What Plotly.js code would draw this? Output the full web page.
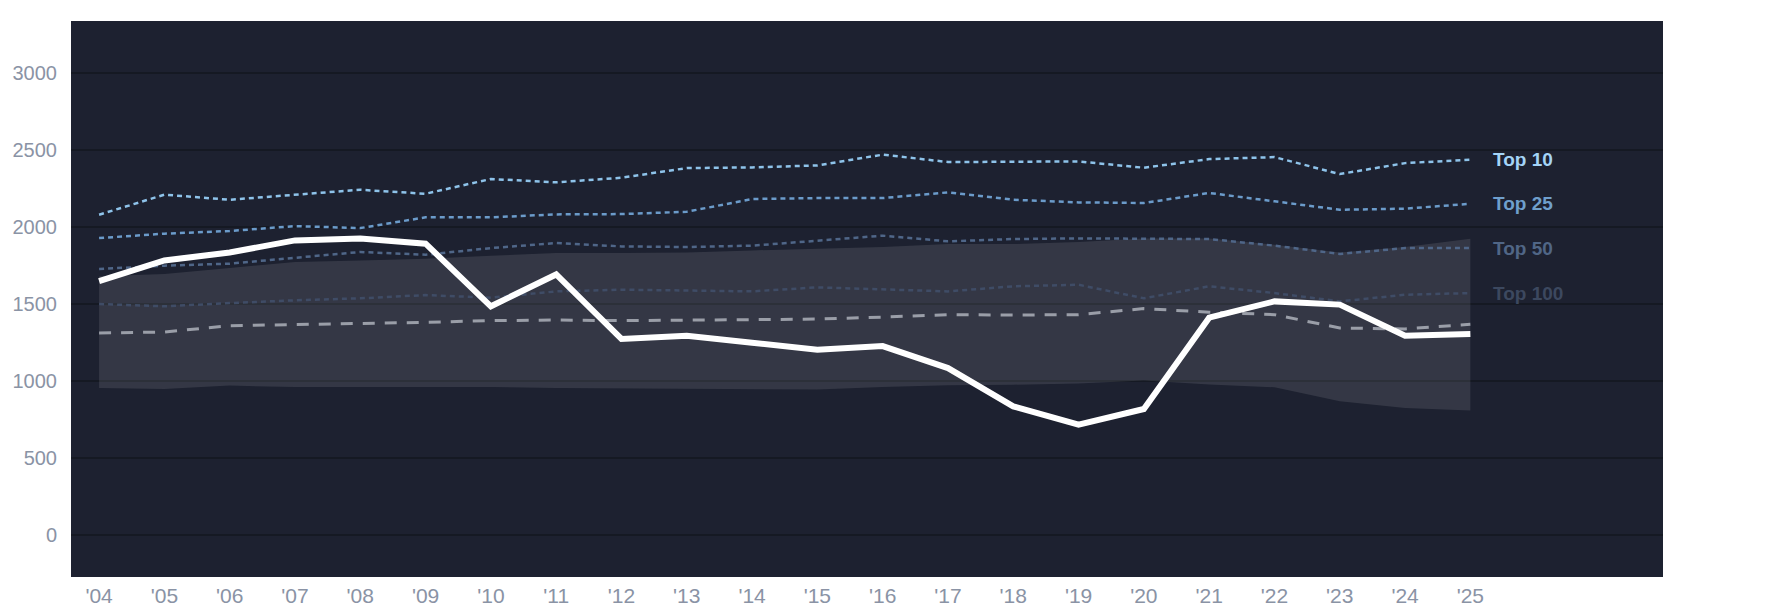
<!DOCTYPE html>
<html>
<head>
<meta charset="utf-8">
<script src="https://cdn.plot.ly/plotly-3.0.1.min.js"></script>
<style>
  html, body { margin: 0; padding: 0; background: #fff; }
  #plotly { width: 1785px; height: 614px; }
</style>
</head>
<body>
<div id="plotly"></div>
<script>
var years = [2004, 2005, 2006, 2007, 2008, 2009, 2010, 2011, 2012, 2013, 2014,
  2015, 2016, 2017, 2018, 2019, 2020, 2021, 2022, 2023, 2024, 2025];
var yearLabels = ["'04", "'05", "'06", "'07", "'08", "'09", "'10", "'11", "'12", "'13", "'14",
  "'15", "'16", "'17", "'18", "'19", "'20", "'21", "'22", "'23", "'24", "'25"];

var bandLow = [954, 948, 970, 961, 961, 961, 961, 954, 952, 950, 948,
  944, 961, 972, 976, 983, 1004, 978, 959, 868, 825, 809];
var bandHigh = [1680, 1695, 1734, 1773, 1783, 1794, 1814, 1831, 1831, 1835, 1848,
  1859, 1870, 1889, 1889, 1902, 1926, 1925, 1885, 1835, 1870, 1924];

var top10 = [2080, 2210, 2177, 2210, 2242, 2216, 2312, 2290, 2320, 2383, 2387,
  2400, 2470, 2422, 2422, 2426, 2385, 2441, 2454, 2344, 2415, 2437];
var top25 = [1928, 1957, 1974, 2006, 1993, 2063, 2063, 2082, 2084, 2099, 2182,
  2188, 2188, 2225, 2177, 2160, 2156, 2221, 2167, 2112, 2119, 2151];
var top50 = [1727, 1749, 1762, 1801, 1838, 1820, 1863, 1896, 1874, 1870, 1879,
  1911, 1944, 1907, 1922, 1926, 1924, 1922, 1879, 1825, 1863, 1863];
var top100 = [1500, 1485, 1506, 1524, 1537, 1558, 1541, 1582, 1593, 1589, 1582,
  1608, 1597, 1582, 1615, 1625, 1537, 1615, 1571, 1517, 1560, 1571];
var median = [1312, 1318, 1359, 1366, 1372, 1381, 1392, 1396, 1392, 1396, 1396,
  1402, 1415, 1431, 1428, 1431, 1470, 1447, 1431, 1344, 1338, 1368];
var team = [1649, 1783, 1835, 1913, 1926, 1892, 1485, 1692, 1273, 1294, 1249,
  1203, 1227, 1084, 835, 716, 818, 1411, 1517, 1496, 1294, 1305];

var tierNames = ['Top 10', 'Top 25', 'Top 50', 'Top 100'];
var tierSeries = [top10, top25, top50, top100];
var tierLineColors = ['#8ec3ea', '#6b9bca', '#4f6688', '#3f4c66'];
var tierTextColors = ['#a4d4f7', '#6f9fcc', '#506686', '#3c485f'];

var data = [];
data.push({
  x: years, y: bandLow, mode: 'lines', line: {width: 0, color: 'rgba(0,0,0,0)'},
  hoverinfo: 'skip', showlegend: false, type: 'scatter'
});
data.push({
  x: years, y: bandHigh, mode: 'lines', line: {width: 0, color: 'rgba(0,0,0,0)'},
  fill: 'tonexty', fillcolor: 'rgba(255,255,255,0.1)',
  hoverinfo: 'skip', showlegend: false, type: 'scatter'
});
tierSeries.forEach(function(vals, i) {
  data.push({
    x: years, y: vals, mode: 'lines', name: tierNames[i],
    line: {color: tierLineColors[i], width: 2.5, dash: '5px,4px'},
    showlegend: false, type: 'scatter'
  });
});
data.push({
  x: years, y: median, mode: 'lines', name: 'Median',
  line: {color: '#9a9ea8', width: 3, dash: '12px,10px'},
  showlegend: false, type: 'scatter'
});
data.push({
  x: years, y: team, mode: 'lines', name: 'Team',
  line: {color: '#ffffff', width: 6},
  showlegend: false, type: 'scatter'
});

var annotations = tierSeries.map(function(vals, i) {
  return {
    x: years[years.length - 1], y: vals[vals.length - 1],
    xref: 'x', yref: 'y', text: '<b>' + tierNames[i] + '</b>',
    showarrow: false, xanchor: 'left', yanchor: 'middle', xshift: 21,
    font: {family: 'Liberation Sans, Arial, sans-serif', size: 19, color: tierTextColors[i]}
  };
});

var layout = {
  width: 1785,
  height: 614,
  margin: {l: 71, r: 122, t: 21, b: 37},
  paper_bgcolor: '#ffffff',
  plot_bgcolor: '#1d2130',
  showlegend: false,
  font: {family: 'Liberation Sans, Arial, sans-serif', size: 21, color: '#8a93a5'},
  xaxis: {
    range: [2003.57, 2027.95],
    tickvals: years,
    ticktext: yearLabels,
    showgrid: false,
    zeroline: false,
    showline: false,
    ticks: '',
    ticklabelstandoff: 4,
    tickfont: {size: 21, color: '#8a93a5'}
  },
  yaxis: {
    range: [-273, 3338],
    tickvals: [0, 500, 1000, 1500, 2000, 2500, 3000],
    gridcolor: '#151923',
    gridwidth: 2,
    zeroline: false,
    showline: false,
    ticks: '',
    ticklabelstandoff: 13,
    tickfont: {size: 20, color: '#8a93a5'}
  },
  annotations: annotations
};

var config = {staticPlot: true};
Plotly.newPlot('plotly', data, layout, config);
</script>
</body>
</html>
